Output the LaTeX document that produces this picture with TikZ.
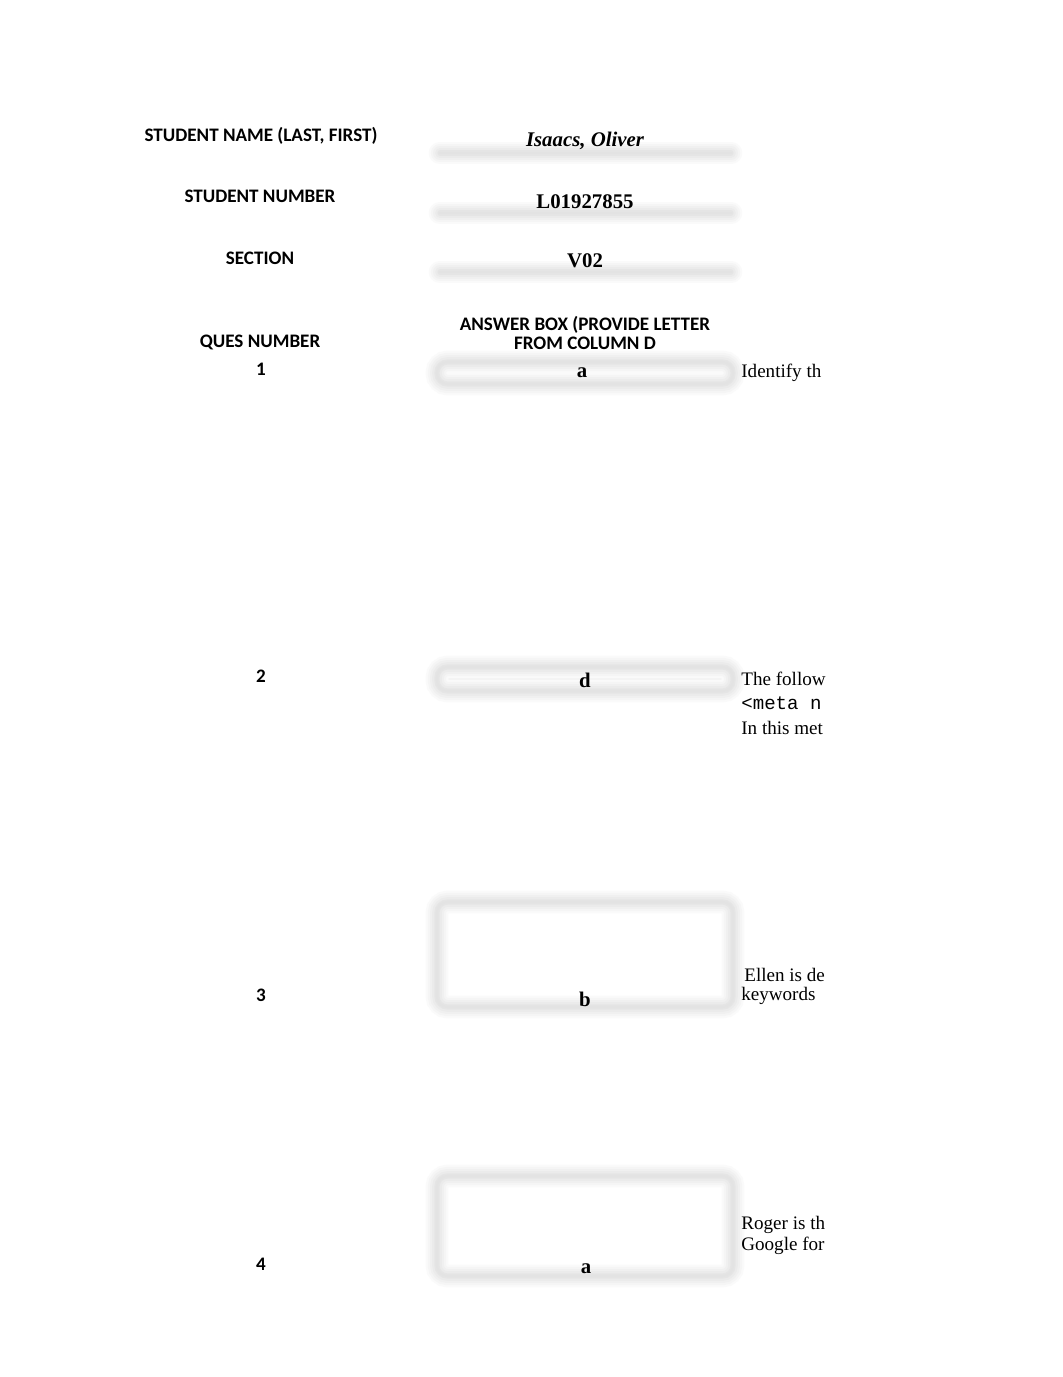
\documentclass[tikz,border=0pt]{standalone}
\usepackage{fontspec}
\setmainfont{Liberation Serif}
\setsansfont{Carlito}
\setmonofont{Liberation Mono}
\usetikzlibrary{positioning}

\begin{document}
\begin{tikzpicture}[x=0.5763pt, y=-0.5763pt,
  lbl/.style = {font=\sffamily\bfseries\fontsize{11}{13}\selectfont, align=center, inner sep=0pt},
  val/.style = {font=\bfseries\fontsize{12}{14}\selectfont, inner sep=0pt},
  qtext/.style = {font=\fontsize{11}{13}\selectfont, anchor=west, inner sep=0pt},
  qcode/.style = {font=\ttfamily\fontsize{11}{13}\selectfont, anchor=west, inner sep=0pt},
  blur0/.style = {line width=13pt, black!2, rounded corners=6pt},
  blur1/.style = {line width=10.5pt, black!4, rounded corners=6pt},
  blur2/.style = {line width=8pt, black!6, rounded corners=6pt},
  blur3/.style = {line width=5.5pt, black!8, rounded corners=6pt},
  blur4/.style = {line width=3pt, black!10, rounded corners=6pt},
  blur5/.style = {line width=1.2pt, black!11, rounded corners=6pt}]
\useasboundingbox[fill=white] (0,0) rectangle (1062,1377);

% underline bars behind the header values
\foreach \nm/\y in {namebar/153, numbar/213, secbar/272}{
  \coordinate (\nm w) at (440,\y);
  \coordinate (\nm e) at (731,\y);
  \foreach \s in {blur0,blur1,blur2,blur3,blur4,blur5}
    \draw[\s, line cap=round] (\nm w) -- (\nm e);
}

% answer boxes
\fill[black!5] (440,365) rectangle (730,381);
\fill[black!5] (440,670) rectangle (730,688);
\foreach \nm/\ya/\yb in {box1/362/384, box2/667/691, box3/902/1007, box4/1176/1276}{
  \coordinate (\nm nw) at (437,\ya);
  \coordinate (\nm se) at (733,\yb);
  \foreach \s in {blur0,blur1,blur2,blur3,blur4,blur5}
    \draw[\s] (\nm nw) rectangle (\nm se);
}

% header labels and values
\node[lbl] (namelbl) at (261,136) {STUDENT NAME (LAST, FIRST)};
\node[val, font=\bfseries\itshape\fontsize{12}{14}\selectfont] (nameval) at (585,141) {Isaacs, Oliver};
\node[lbl] (numlbl) at (260,196) {STUDENT NUMBER};
\node[val] (numval) at (585,202) {L01927855};
\node[lbl] (seclbl) at (260,258) {SECTION};
\node[val] (secval) at (585,261) {V02};

\node[lbl] (queshead) at (260,342) {QUES NUMBER};
\node[lbl, font=\sffamily\bfseries\fontsize{11}{10.4}\selectfont] (anshead) at (585,333) {ANSWER BOX (PROVIDE LETTER\\FROM COLUMN D};

% question rows
\node[lbl] (q1) at (261,369) {1};
\node[val] (a1) at (582,373) {a};
\node[qtext] (t1) at (741,373) {Identify th};

\node[lbl] (q2) at (261,676) {2};
\node[val] (a2) at (585,680) {d};
\node[qtext] (t2a) at (741,679) {The follow};
\node[qcode] (t2b) at (741,703) {<meta n};
\node[qtext] (t2c) at (741,728) {In this met};

\node[lbl] (q3) at (261,995) {3};
\node[val] (a3) at (585,999) {b};
\node[qtext] (t3a) at (744,975) {Ellen is de};
\node[qtext] (t3b) at (741,996) {keywords};

\node[lbl] (q4) at (261,1264) {4};
\node[val] (a4) at (586,1269) {a};
\node[qtext] (t4a) at (741,1225) {Roger is th};
\node[qtext] (t4b) at (741,1246) {Google for};
\end{tikzpicture}
\end{document}
